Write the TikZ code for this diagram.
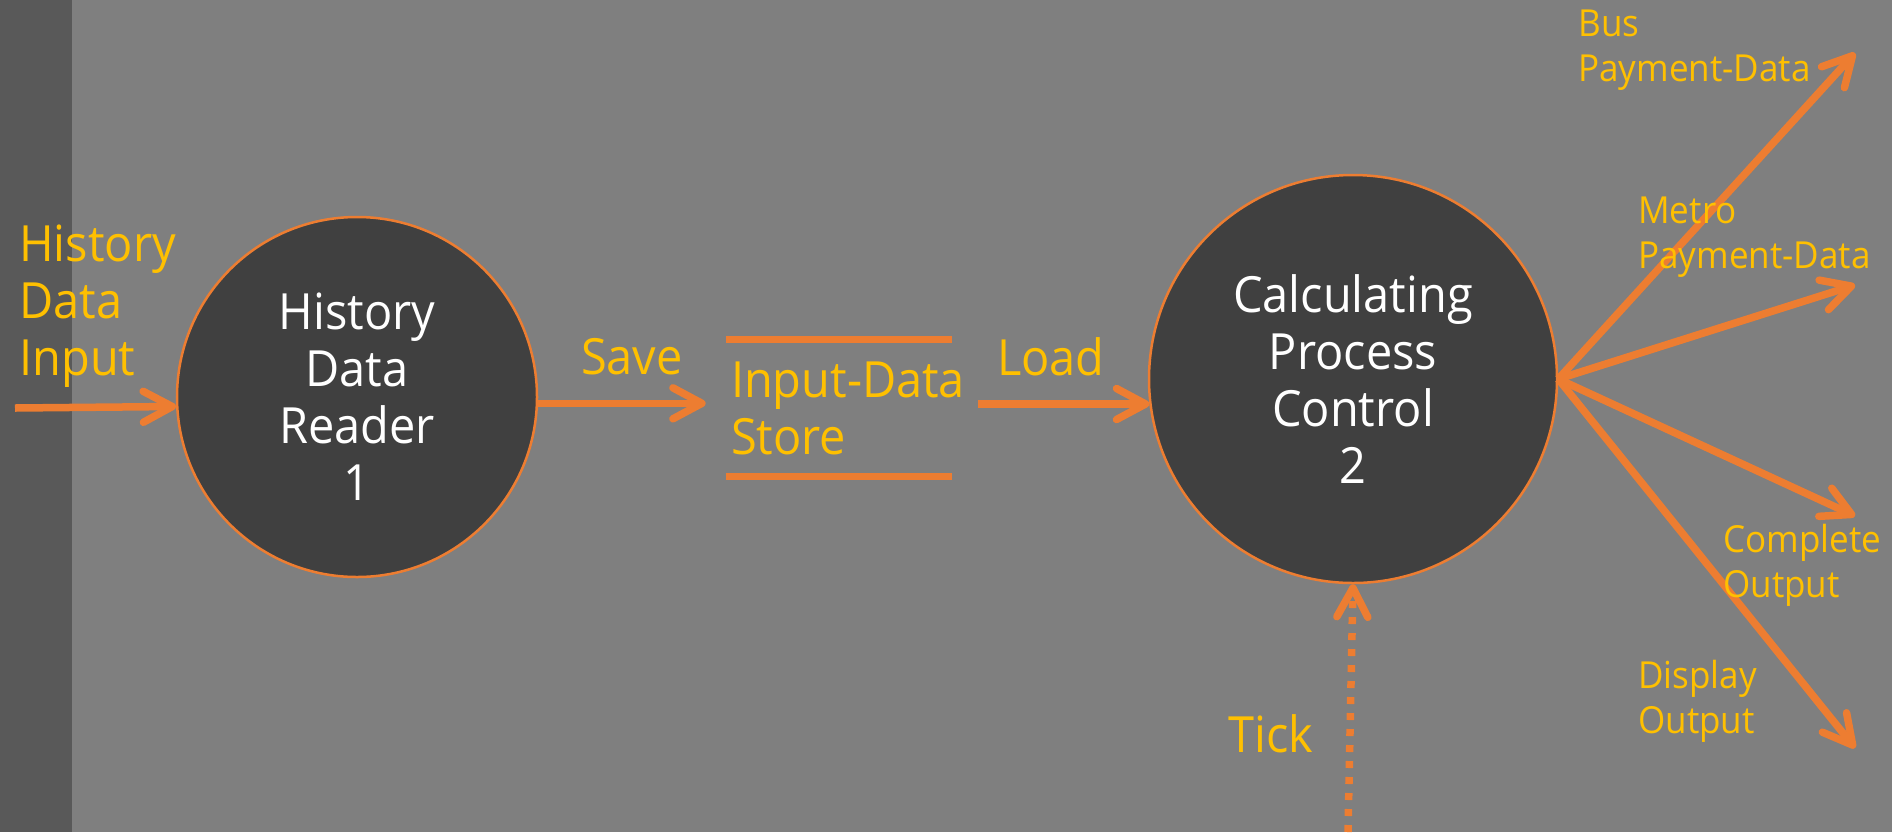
\documentclass[tikz,border=0pt]{standalone}
\usepackage{fontspec}
\setmainfont{Open Sans}[FakeStretch=0.94]
\usepackage{tikz}
\usetikzlibrary{arrows.meta}
\definecolor{bg}{HTML}{7F7F7F}
\definecolor{strip}{HTML}{595959}
\definecolor{bubble}{HTML}{404040}
\definecolor{flowc}{HTML}{ED7D31}
\definecolor{labelc}{HTML}{FFC000}
\tikzset{
    process/.style={circle, draw=flowc, line width=0.5mm, fill=bubble, text=white, inner sep=0pt, align=center, font=\fontsize{28.4}{32.4}\selectfont},
    flow/.style={draw=flowc, line width=1.5mm, -{Straight Barb[length=5.8mm, width=6.2mm, round]}},
    tickflow/.style={flow, dash pattern=on 1.4mm off 1.8mm},
    storeline/.style={draw=flowc, line width=1.5mm},
    biglabel/.style={text=labelc, inner sep=0pt, align=left, font=\fontsize{28.4}{32.4}\selectfont},
    smalllabel/.style={text=labelc, inner sep=0pt, align=left, font=\fontsize{21.2}{25.6}\selectfont}
}

\begin{document}
\begin{tikzpicture}[x=0.2mm, y=-0.2mm]
        \useasboundingbox (0,0) rectangle (1892,832);
        \fill[bg] (0,0) rectangle (1892,832);
        \fill[strip] (0,0) rectangle (72,832);
        \node[process, minimum size=72mm] (reader) at (357,397) {History\\Data\\Reader\\1};
        \node[process, minimum size=81.6mm] (calc) at (1353,379) {Calculating\\Process\\Control\\2};
        \node[biglabel, text width=43.2mm, inner xsep=1mm, minimum height=27.2mm] (store) at (839,408) {\mbox{Input-Data}\\Store};
        \draw[storeline] (store.north west) -- (store.north east);
        \draw[storeline] (store.south west) -- (store.south east);
        \node[biglabel, anchor=north west] (inlabel) at (19,225) {History\\Data\\Input};
        \coordinate (source) at (15,408);
        \draw[flow] (source) -- (reader.183.5);
        \draw[flow, shorten >=4mm] (reader.-2.5) -- (reader.-2.5 -| store.west) node[biglabel, above=5mm, pos=.5] (savelabel) {Save};
        \draw[flow, shorten <=5.2mm] (calc.187 -| store.east) -- (calc.187) node[biglabel, above=4.8mm, pos=.5] (loadlabel) {Load};
        \foreach \name/\y in {bus/53, metro/285, complete/516, display/748}
        {
            \coordinate (\name) at (1855, \y);
            \draw[flow] (calc.east) -- (\name);
        }
        \coordinate (clock) at (1348,832);
        \draw[tickflow] (clock) -- (calc.south);
        \node[biglabel] (ticklabel) at (1271,734) {Tick};
        \node[smalllabel, anchor=north west] (buslabel) at (1578,10) {Bus\\Payment-Data};
        \node[smalllabel, anchor=north west] (metrolabel) at (1638,197) {Metro\\Payment-Data};
        \node[smalllabel, anchor=north west] (completelabel) at (1723,524) {Complete\\Output};
        \node[smalllabel, anchor=north west] (displaylabel) at (1638,660) {Display\\Output};
    \end{tikzpicture}
\end{document}
